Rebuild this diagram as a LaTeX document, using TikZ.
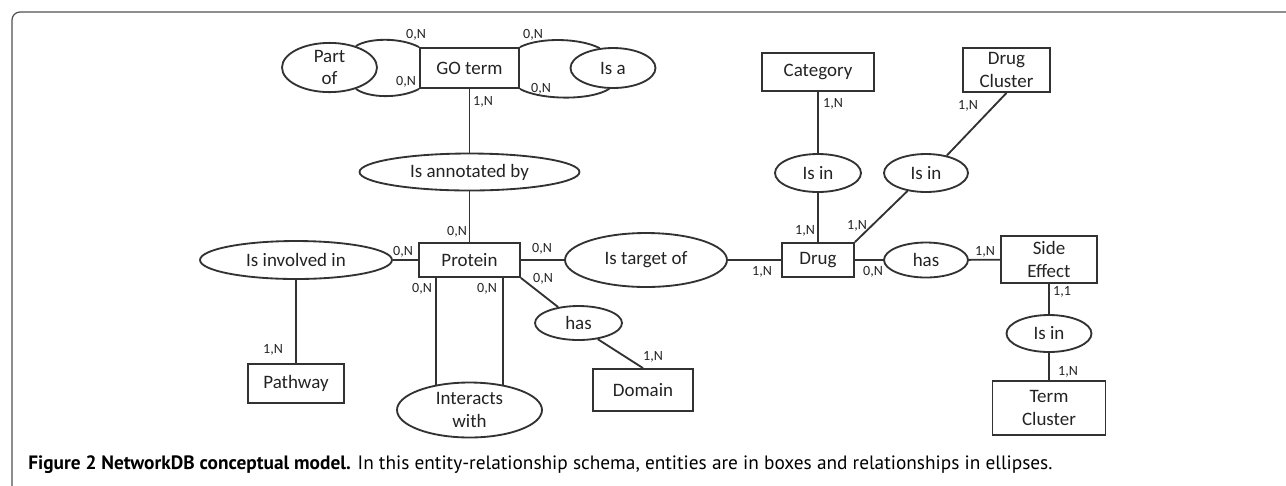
\documentclass[tikz,border=0pt]{standalone}
\usepackage{fontspec}
\setmainfont{Carlito}
\newfontfamily\capfont{PT Sans}
\usetikzlibrary{positioning, shapes.geometric, calc}
\definecolor{linegray}{RGB}{50,50,50}
\definecolor{textgray}{RGB}{35,35,35}
\definecolor{framegray}{RGB}{80,80,80}
\newcommand{\diagfont}{\fontsize{10.8}{12.8}\selectfont}
\newcommand{\multfont}{\fontsize{8}{9}\selectfont}

\begin{document}
\begin{tikzpicture}[x=0.02cm, y=-0.02cm,
  entity/.style={
    rectangle, draw=linegray, line width=1.05pt, inner sep=0pt,
    align=center, font=\diagfont, text=textgray
  },
  rel/.style={
    ellipse, draw=linegray, line width=1.05pt, inner sep=0pt,
    align=center, font=\diagfont, text=textgray
  },
  mult/.style={inner sep=0pt, font=\multfont, text=textgray},
  link/.style={draw=linegray, line width=1.05pt}
]
\useasboundingbox (0,0) rectangle (1286,485);

% frame
\draw[framegray, line width=0.7pt, rounded corners=0.16cm] (12,495) -- (12,12) -- (1295,12);

% GO term and its relations
\node[entity, minimum width=1.98cm, minimum height=0.8cm] (go) at (469.5,68) {GO term};
\node[rel, minimum width=1.9cm, minimum height=0.82cm] (partof) at (329.5,67.5) {Part\\of};
\node[rel, minimum width=1.7cm, minimum height=0.8cm] (isa) at (613,68) {Is a};
\node[rel, minimum width=4.4cm, minimum height=0.74cm] (annot) at (469.5,172) {Is annotated by};

% protein side
\node[entity, minimum width=2.02cm, minimum height=0.68cm] (protein) at (469.5,260) {Protein};
\node[rel, minimum width=3.84cm, minimum height=0.76cm] (involved) at (296,260) {Is involved in};
\node[entity, minimum width=1.92cm, minimum height=0.78cm] (pathway) at (296,383.5) {Pathway};
\node[rel, minimum width=2.9cm, minimum height=1.1cm] (interacts) at (469.5,410) {Interacts\\with};
\node[rel, minimum width=1.74cm, minimum height=0.68cm] (hasdom) at (578.5,323) {has};
\node[entity, minimum width=2cm, minimum height=0.84cm] (domain) at (643,390) {Domain};
\node[rel, minimum width=3.24cm, minimum height=1.08cm] (target) at (646,260) {Is target of};

% drug side
\node[entity, minimum width=1.44cm, minimum height=0.68cm] (drug) at (818,260) {Drug};
\node[rel, minimum width=1.68cm, minimum height=0.7cm] (hasse) at (926,260) {has};
\node[entity, minimum width=1.92cm, minimum height=0.94cm] (sideeff) at (1049,259.5) {Side\\Effect};
\node[rel, minimum width=1.7cm, minimum height=0.74cm] (termin) at (1049,333.5) {Is in};
\node[entity, minimum width=2.26cm, minimum height=1.08cm] (termclus) at (1049,408) {Term\\Cluster};
\node[entity, minimum width=2.24cm, minimum height=0.76cm] (category) at (818,72) {Category};
\node[rel, minimum width=1.72cm, minimum height=0.76cm] (catin) at (818,173) {Is in};
\node[rel, minimum width=1.68cm, minimum height=0.76cm] (clusin) at (926,173) {Is in};
\node[entity, minimum width=1.74cm, minimum height=0.88cm] (drugclus) at (1006.5,70) {Drug\\Cluster};

% recursive links of GO term
\draw[link] (go.north west) .. controls (400,37) and (368,38) .. (partof.39);
\draw[link] (go.south west) .. controls (400,99) and (368,98) .. (partof.-39);
\draw[link] (go.north east) .. controls (540,37) and (580,38) .. (isa.124);
\draw[link] (go.south east) .. controls (540,100) and (590,101) .. (isa.-100);

% links
\draw[link] (go) -- (annot);
\draw[link] (annot) -- (protein);
\draw[link] (involved) -- (protein);
\draw[link] (involved) -- (pathway);
\draw[link] (interacts.143) -- (interacts.143 |- protein.south);
\draw[link] (interacts.37) -- (interacts.37 |- protein.south);
\draw[link] (protein.south east) -- (hasdom);
\draw[link] (hasdom.-40) -- (domain.north);
\draw[link] (protein) -- (target);
\draw[link] (target) -- (drug);
\draw[link] (drug) -- (hasse);
\draw[link] (hasse) -- (sideeff);
\draw[link] (category) -- (catin);
\draw[link] (catin) -- (drug);
\draw[link] (drug.north east) -- (clusin);
\draw[link] (clusin.40) -- (drugclus.south);
\draw[link] (sideeff) -- (termin);
\draw[link] (termin) -- (termclus);

% cardinalities
\node[mult] (mpo1) at (416,35) {0,N};
\node[mult] (mpo2) at (406,82) {0,N};
\node[mult] (misa1) at (533,35) {0,N};
\node[mult] (misa2) at (541,89) {0,N};
\node[mult] (mgo) at (483,102) {1,N};
\node[mult] (mprot1) at (457,232) {0,N};
\node[mult] (mprot2) at (403,252) {0,N};
\node[mult] (mprot3) at (542,249) {0,N};
\node[mult] (mprot4) at (543,279) {0,N};
\node[mult] (mprot5) at (422,289) {0,N};
\node[mult] (mprot6) at (487,289) {0,N};
\node[mult] (mpath) at (273,350) {1,N};
\node[mult] (mdom) at (653,357) {1,N};
\node[mult] (mdrug1) at (762,272) {1,N};
\node[mult] (mdrug2) at (805,231) {1,N};
\node[mult] (mdrug3) at (857,226) {1,N};
\node[mult] (mdrug4) at (873,272) {0,N};
\node[mult] (mse1) at (985,252) {1,N};
\node[mult] (mse2) at (1062,292) {1,1};
\node[mult] (mterm) at (1068,372) {1,N};
\node[mult] (mcat) at (833,104) {1,N};
\node[mult] (mclus) at (968,106) {1,N};

% caption
\node[anchor=base west, inner sep=0pt, font=\capfont\fontsize{11}{13}\selectfont] (caption) at (28,469)
  {\textbf{Figure 2 NetworkDB conceptual model.} In this entity-relationship schema, entities are in boxes and relationships in ellipses.};

\end{tikzpicture}
\end{document}
